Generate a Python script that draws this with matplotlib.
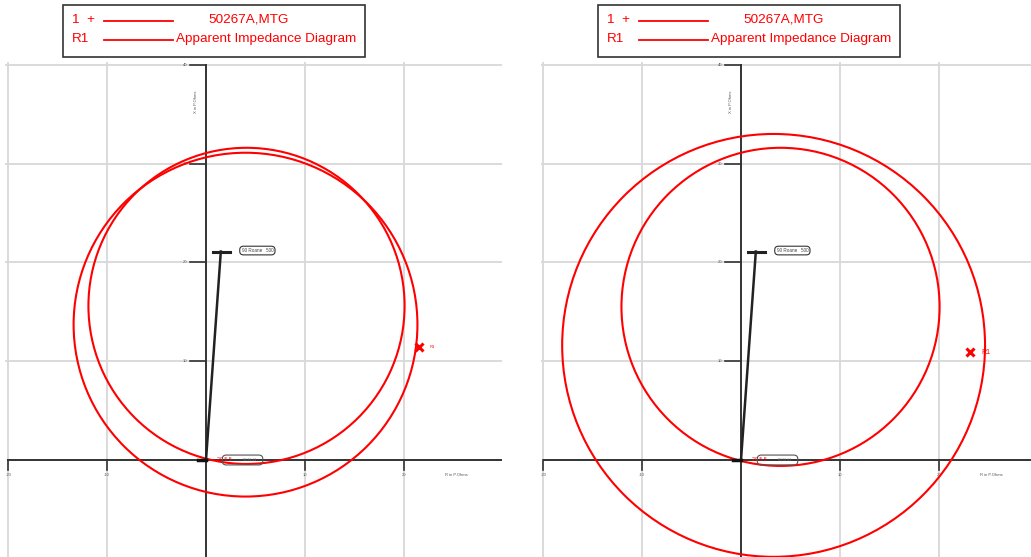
import matplotlib
matplotlib.use("Agg")
import matplotlib.pyplot as plt
from matplotlib.patches import Circle, Rectangle, FancyBboxPatch

plt.rcParams['font.family'] = ['Liberation Sans', 'DejaVu Sans']

# ---- data (ohms) ----
grid_ticks = [-20, -10, 10, 20]
y_ticks = [10, 20, 30, 40]
x_tick_labels = ["-20", "-10", "10", "20"]
y_tick_labels = ["10", "20", "30", "40"]

# apparent impedance circles: (centre R, centre X, radius)
left_circles_cx = [4.0, 4.1]
left_circles_cy = [13.7, 15.6]
left_circles_r = [17.4, 16.0]
right_circles_cx = [3.3, 4.0]
right_circles_cy = [11.6, 15.5]
right_circles_r = [21.4, 16.1]

# line impedance
line_r = [0.0, 1.5]
line_x = [0.0, 21.1]
line_bar_r = [0.7, 2.4]
line_label = "90 Roane   500"

# R1 relay points
left_r1 = (21.56, 11.44)
right_r1 = (23.18, 10.93)

legend_rows = [("1  +", "50267A,MTG"), ("R1", "Apparent Impedance Diagram")]

W, H = 1031, 557
fig = plt.figure(figsize=(W / 100, H / 100), dpi=100)

scale = 9.88  # px per ohm
def make_axes(px_left, px_right, px_origin_x, px_top=62, px_bottom=557, px_origin_y=460):
    ax = fig.add_axes([px_left / W, 1 - px_bottom / H, (px_right - px_left) / W, (px_bottom - px_top) / H])
    ax.set_xlim((px_left - px_origin_x) / scale, (px_right - px_origin_x) / scale)
    ax.set_ylim((px_origin_y - px_bottom) / scale, (px_origin_y - px_top) / scale)
    ax.set_xticks([]); ax.set_yticks([])
    for s in ax.spines.values():
        s.set_visible(False)
    return ax

def draw_panel(ax, cxs, cys, rs, r1, r1_fs):
    for g in grid_ticks:
        ax.axvline(g, color='#d8d8d8', lw=1.3, zorder=0)
    for g in y_ticks:
        ax.axhline(g, color='#d8d8d8', lw=1.3, zorder=0)
    # axes
    ax.plot([ax.get_xlim()[0] + 0.3, ax.get_xlim()[1]], [0, 0], color='#333333', lw=1.4, zorder=2)
    ax.plot([0, 0], [ax.get_ylim()[0], 40], color='#333333', lw=1.4, zorder=2)
    for t, lab in zip(grid_ticks, x_tick_labels):
        ax.plot([t, t], [0, -1.0], color='#333333', lw=1.2, zorder=2)
        ax.text(t, -1.5, lab, fontsize=3, color='#555555', ha='center', va='center')
    for t, lab in zip(y_ticks, y_tick_labels):
        ax.plot([-1.6, 0], [t, t], color='#333333', lw=1.2, zorder=2)
        ax.text(-1.9, t, lab, fontsize=3, color='#555555', ha='right', va='center')
    ax.text(25.3, -1.5, "R in P.Ohms", fontsize=3, color='#555555', ha='center', va='center')
    ax.text(-1.0, 36.3, "X in P.Ohms", fontsize=3, color='#555555', ha='center', va='center', rotation=90)
    # circles
    for cx, cy, r in zip(cxs, cys, rs):
        ax.add_patch(Circle((cx, cy), r, fill=False, ec='#ff0000', lw=1.5, zorder=3))
    # line impedance
    ax.plot(line_r, line_x, color='#222222', lw=1.8, zorder=4)
    ax.plot(line_bar_r, [line_x[1], line_x[1]], color='#222222', lw=2.2, zorder=4)
    ax.text(5.2, 21.2, line_label, fontsize=3.3, color='#444444', ha='center', va='center',
            bbox=dict(boxstyle='round,pad=0.4,rounding_size=0.8', fc='white', ec='#333333', lw=0.8), zorder=5)
    # origin label
    ax.plot([-0.8, 0], [0, 0], color='#111111', lw=2.5, zorder=5)
    ax.add_patch(FancyBboxPatch((1.7, -0.45), 4.0, 0.9,
                                boxstyle='round,pad=0.05,rounding_size=0.4',
                                fc='none', ec='#555555', lw=0.8, zorder=5))
    ax.text(1.9, 0.05, "20 5 5", fontsize=3.8, color='#ff0000', ha='center', va='center', zorder=6)
    ax.text(4.4, 0.0, "R1 50 4.3", fontsize=2.2, color='#777777', ha='center', va='center', zorder=6)
    # R1 point
    ax.plot([r1[0]], [r1[1]], marker='x', color='#ff0000', ms=6, mew=2.2, zorder=6)
    ax.text(r1[0] + 1.1, r1[1], "R1", fontsize=r1_fs, color='#ff0000', ha='left', va='center')

axL = make_axes(5, 502, 206)
draw_panel(axL, left_circles_cx, left_circles_cy, left_circles_r, left_r1, 3)
axR = make_axes(541, 1031, 741)
draw_panel(axR, right_circles_cx, right_circles_cy, right_circles_r, right_r1, 5)

# legend boxes
def legend_box(x0):
    ax = fig.add_axes([0, 0, 1, 1], facecolor='none')
    ax.set_xlim(0, W); ax.set_ylim(H, 0); ax.axis('off')
    ax.add_patch(Rectangle((x0, 5), 302, 52, fill=True, fc='white', ec='#333333', lw=1.2))
    ys = [20, 39]
    for (a, b), y in zip(legend_rows, ys):
        ax.text(x0 + 9, y, a, fontsize=9.7, color='#ff0000', ha='left', va='center')
        ax.plot([x0 + 41, x0 + 110], [y + 1, y + 1], color='#ff0000', lw=1.3)
    ax.text(x0 + 186, ys[0], legend_rows[0][1], fontsize=9.7, color='#ff0000', ha='center', va='center')
    ax.text(x0 + 113, ys[1], legend_rows[1][1], fontsize=9.7, color='#ff0000', ha='left', va='center')

legend_box(63)
legend_box(598)

fig.savefig("out.png", dpi=100)
